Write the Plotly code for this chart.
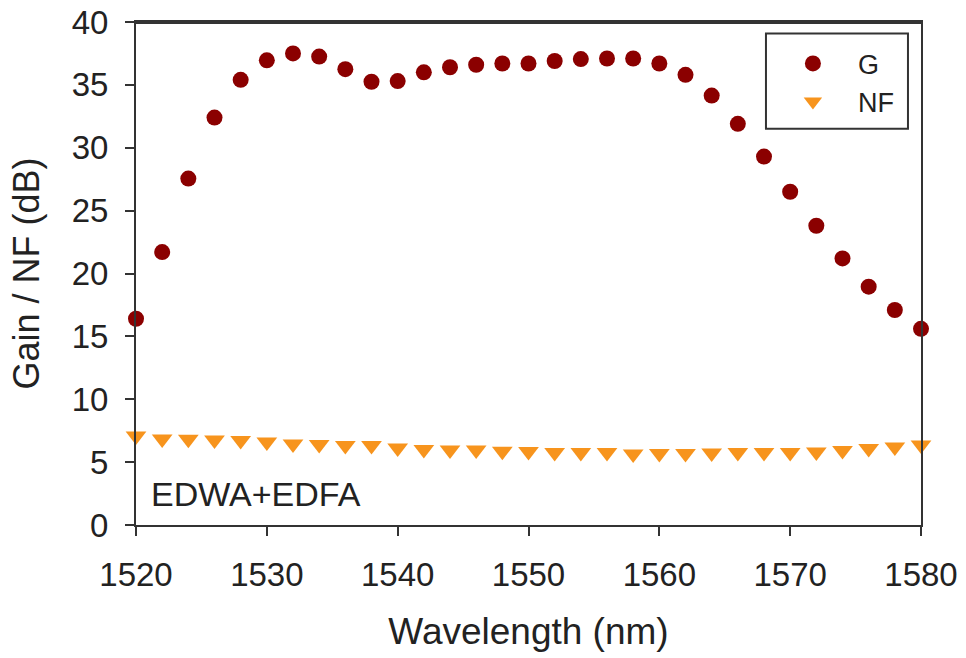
import plotly.graph_objects as go

wavelength = [1520, 1522, 1524, 1526, 1528, 1530, 1532, 1534, 1536, 1538, 1540,
              1542, 1544, 1546, 1548, 1550, 1552, 1554, 1556, 1558, 1560,
              1562, 1564, 1566, 1568, 1570, 1572, 1574, 1576, 1578, 1580]

gain_db = [16.4, 21.7, 27.55, 32.4, 35.4, 36.95, 37.5, 37.25, 36.25, 35.25, 35.3,
           36.0, 36.4, 36.6, 36.7, 36.7, 36.9, 37.05, 37.1, 37.1, 36.7,
           35.8, 34.15, 31.9, 29.3, 26.5, 23.8, 21.2, 18.95, 17.1, 15.6]

nf_db = [7.08, 6.84, 6.82, 6.76, 6.71, 6.60, 6.44, 6.40, 6.32, 6.32, 6.13,
         6.00, 5.97, 5.97, 5.86, 5.84, 5.76, 5.76, 5.76, 5.65, 5.68,
         5.68, 5.73, 5.76, 5.76, 5.76, 5.81, 5.92, 6.08, 6.21, 6.36]

x_ticks = [1520, 1530, 1540, 1550, 1560, 1570, 1580]
y_ticks = [0, 5, 10, 15, 20, 25, 30, 35, 40]

FONT = "Liberation Sans, Arial, sans-serif"
AXIS_COLOR = "#333333"
TEXT_COLOR = "#222222"

fig = go.Figure()
fig.add_trace(go.Scatter(
    x=wavelength, y=gain_db, mode="markers", name="G",
    marker=dict(symbol="circle", size=16, color="#8B0000"),
    cliponaxis=False,
))
fig.add_trace(go.Scatter(
    x=wavelength, y=nf_db, mode="markers", name="NF",
    marker=dict(symbol="triangle-down", size=18, color="#F7941D"),
    cliponaxis=False,
))

axis_common = dict(
    showline=True, linecolor=AXIS_COLOR, linewidth=2, mirror=True,
    ticks="outside", ticklen=9, tickwidth=2, tickcolor=AXIS_COLOR,
    showgrid=False, zeroline=False, automargin=False,
    ticklabelstandoff=10, ticklabeloverflow="allow",
    tickfont=dict(family=FONT, size=33, color=TEXT_COLOR),
)

fig.update_xaxes(
    range=[1520, 1580], tickvals=x_ticks,
    title=dict(text="Wavelength (nm)", font=dict(family=FONT, size=37, color=TEXT_COLOR), standoff=27),
    **axis_common,
)
fig.update_yaxes(
    range=[0, 40], tickvals=y_ticks,
    title=dict(text="Gain / NF (dB)", font=dict(family=FONT, size=36, color=TEXT_COLOR), standoff=21),
    **axis_common,
)

fig.add_annotation(
    text="EDWA+EDFA", xref="paper", yref="paper", x=0.016, y=0.062,
    xanchor="left", yanchor="middle", showarrow=False,
    font=dict(family=FONT, size=34, color=TEXT_COLOR),
)

# top edge of the plot frame
fig.add_shape(
    type="line", xref="paper", yref="paper",
    x0=0, x1=1, y0=0.998, y1=0.998,
    line=dict(color=AXIS_COLOR, width=2), layer="above",
)

# legend frame
fig.add_shape(
    type="rect", xref="paper", yref="paper",
    x0=0.8025, x1=0.9834, y0=0.788, y1=0.977,
    line=dict(color=AXIS_COLOR, width=2), fillcolor="rgba(0,0,0,0)", layer="above",
)

fig.update_layout(
    width=966, height=658,
    margin=dict(l=136, r=45, t=22, b=133, autoexpand=False),
    plot_bgcolor="white", paper_bgcolor="white",
    showlegend=True,
    legend=dict(
        x=0.805, y=0.879, xanchor="left", yanchor="middle",
        borderwidth=0, bgcolor="rgba(0,0,0,0)",
        font=dict(family=FONT, size=27, color=TEXT_COLOR),
        itemwidth=80,
    ),
)

# remove the default page margin so the figure sits at the window's top-left corner
fig.write_html(
    "out.html",
    config={"displayModeBar": False},
    post_script="document.body.style.margin='0';document.body.style.overflow='hidden';",
)
